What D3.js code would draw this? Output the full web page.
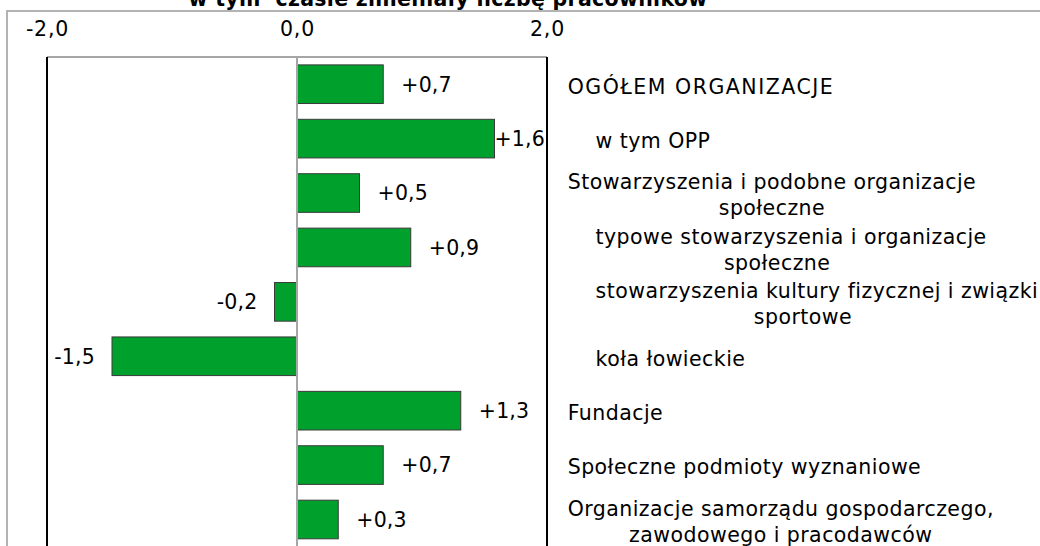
<!DOCTYPE html>
<html>
<head>
<meta charset="utf-8">
<script src="https://cdn.jsdelivr.net/npm/d3@7/dist/d3.min.js"></script>
<style>
  html, body { margin: 0; padding: 0; background: #fff; overflow: hidden; }
  svg { display: block; font-family: "DejaVu Sans", Verdana, sans-serif; }
  .pre { white-space: pre; }
</style>
</head>
<body>
<svg id="chart" width="1040" height="546"></svg>
<script>
const title = "w tym  czasie zmieniały liczbę pracowników";
const categories = [
  ["OGÓŁEM ORGANIZACJE"],
  ["    w tym OPP"],
  ["Stowarzyszenia i podobne organizacje", "społeczne"],
  ["    typowe stowarzyszenia i organizacje", "społeczne"],
  ["    stowarzyszenia kultury fizycznej i związki", "sportowe"],
  ["    koła łowieckie"],
  ["Fundacje"],
  ["Społeczne podmioty wyznaniowe"],
  ["Organizacje samorządu gospodarczego,", "zawodowego i pracodawców"]
];
const values = [0.69, 1.58, 0.5, 0.91, -0.18, -1.48, 1.31, 0.69, 0.33];
const valueLabels = ["+0,7", "+1,6", "+0,5", "+0,9", "-0,2", "-1,5", "+1,3", "+0,7", "+0,3"];
const tickValues = [-2, 0, 2];
const tickLabels = ["-2,0", "0,0", "2,0"];

const svg = d3.select("#chart");
const W = 1040, H = 546;
const plot = { left: 47, right: 547, top: 57, bottom: 546.7 };
const fs = 20.5;

const x = d3.scaleLinear().domain([-2, 2]).range([plot.left, plot.right]);
const y = d3.scaleBand().domain(d3.range(values.length))
  .range([plot.top, plot.bottom]).paddingInner(0.29).paddingOuter(0.145);

// outer frame
svg.append("path")
  .attr("d", `M7,${H + 5} L7,11 L${W + 5},11`)
  .attr("fill", "none").attr("stroke", "#b3b3b3").attr("stroke-width", 2);

// title (cut off at top)
svg.append("text")
  .attr("x", 448).attr("y", 6)
  .attr("text-anchor", "middle")
  .attr("font-weight", "bold").attr("font-size", fs)
  .attr("letter-spacing", 0.3)
  .attr("fill", "#000")
  .attr("class", "pre")
  .text(title);

// plot area borders
svg.append("line").attr("x1", plot.left).attr("x2", plot.right)
  .attr("y1", plot.top).attr("y2", plot.top)
  .attr("stroke", "#a6a6a6").attr("stroke-width", 2);
svg.append("line").attr("x1", plot.left).attr("x2", plot.left)
  .attr("y1", plot.top).attr("y2", H + 5)
  .attr("stroke", "#000").attr("stroke-width", 2);
svg.append("line").attr("x1", plot.right).attr("x2", plot.right)
  .attr("y1", plot.top).attr("y2", H + 5)
  .attr("stroke", "#000").attr("stroke-width", 2);

// top axis
const axis = d3.axisTop(x).tickValues(tickValues)
  .tickFormat((d, i) => tickLabels[i]).tickSize(0).tickPadding(3);
const ag = svg.append("g").attr("transform", "translate(0,39)").call(axis);
ag.select(".domain").remove();
ag.selectAll("text").attr("font-size", fs).attr("fill", "#000")
  .attr("letter-spacing", 0.8)
  .attr("font-family", "DejaVu Sans, Verdana, sans-serif");

// bars
svg.append("g").selectAll("rect").data(values).join("rect")
  .attr("x", d => x(Math.min(0, d)))
  .attr("width", d => Math.abs(x(d) - x(0)))
  .attr("y", (d, i) => y(i))
  .attr("height", y.bandwidth())
  .attr("fill", "#00a02d")
  .attr("stroke", "#3a3a3a").attr("stroke-width", 1);

// zero line
svg.append("line").attr("x1", x(0)).attr("x2", x(0))
  .attr("y1", plot.top).attr("y2", H + 5)
  .attr("stroke", "#a6a6a6").attr("stroke-width", 2);

// value labels
const vl = svg.append("g").selectAll("text").data(values).join("text")
  .attr("font-size", fs).attr("fill", "#000")
  .attr("letter-spacing", 0.2)
  .attr("y", (d, i) => y(i) + y.bandwidth() / 2)
  .attr("dy", "0.36em")
  .text((d, i) => valueLabels[i]);
vl.each(function(d) {
  const t = d3.select(this);
  const w = this.getComputedTextLength();
  if (d >= 0) {
    let px = x(d) + 18;
    if (px + w > plot.right - 2) px = plot.right - 2 - w;
    t.attr("x", px).attr("text-anchor", "start");
  } else {
    t.attr("x", x(d) - 17).attr("text-anchor", "end");
  }
});

// category labels (right side)
const labelX = 567.7;
const lineH = 26;
const cg = svg.append("g");
categories.forEach((lines, i) => {
  const cy = y(i) + y.bandwidth() / 2 + 2;
  const g = cg.append("g");
  const caps = lines[0] === lines[0].toUpperCase();
  const texts = lines.map((ln, j) => g.append("text")
    .attr("class", "pre")
    .attr("font-size", fs).attr("fill", "#000")
    .attr("letter-spacing", caps ? 1.5 : 0.45)
    .attr("y", cy + (j - (lines.length - 1) / 2) * lineH)
    .attr("dy", "0.36em")
    .text(ln));
  if (lines.length === 1) {
    texts[0].attr("x", labelX).attr("text-anchor", "start");
  } else {
    const widths = texts.map(t => t.node().getComputedTextLength());
    const bw = d3.max(widths);
    texts.forEach(t => t.attr("x", labelX + bw / 2).attr("text-anchor", "middle"));
  }
});
</script>
</body>
</html>
